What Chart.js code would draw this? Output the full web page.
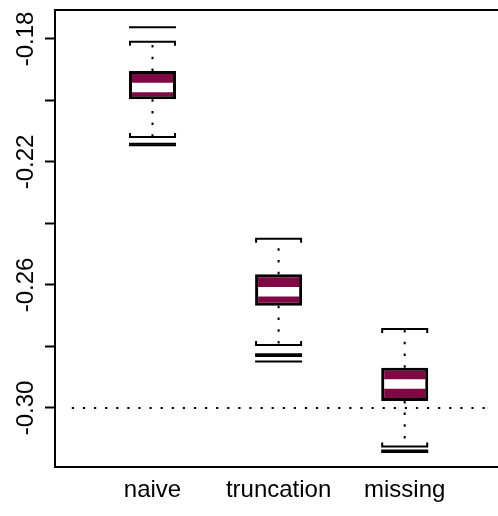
<!DOCTYPE html>
<html>
<head>
<meta charset="utf-8">
<script src="https://cdn.jsdelivr.net/npm/chart.js@4/dist/chart.umd.min.js"></script>
<style>
  html, body { margin: 0; padding: 0; background: #ffffff; overflow: hidden; }
  canvas { display: block; }
</style>
</head>
<body>
<canvas id="c" width="498" height="516"></canvas>
<script>
// Estimator comparison: five-number summaries per method plus the flagged outliers.
const categories   = ['naive', 'truncation', 'missing'];
const boxPositions = [1, 2, 3];
const upperQuartile = [-0.1904, -0.2565, -0.2869];
const medians       = [-0.1958, -0.2622, -0.2922];
const lowerQuartile = [-0.1996, -0.2668, -0.2977];
const whiskerHigh   = [-0.1809, -0.2450, -0.2743];
const whiskerLow    = [-0.2119, -0.2795, -0.3125];
const outliers = [
  [-0.1762, -0.2141, -0.2146],
  [-0.2825, -0.2831, -0.2849],
  [-0.3138, -0.3143]
];

// True parameter value, drawn as a dotted reference line.
const referenceLevel = -0.30;
const referenceSpan  = [0.36, 3.64];

// Axis ranges and ticks.
const xLimits = [0.2268, 3.7399];
const yLimits = [-0.3192, -0.1706];
const yTickValues = [-0.30, -0.28, -0.26, -0.24, -0.22, -0.20, -0.18];
const yTickLabels = ['-0.30', '', '-0.26', '', '-0.22', '', '-0.18'];

const FONT = "'Liberation Sans', Arial, Helvetica, sans-serif";
const BOX_FILL = '#800845';

// Whisker segments: box edge to whisker end, separated by gaps.
const whiskerPoints = [];
boxPositions.forEach((x, i) => {
  whiskerPoints.push({ x, y: upperQuartile[i] }, { x, y: whiskerHigh[i] }, { x, y: null });
  whiskerPoints.push({ x, y: lowerQuartile[i] }, { x, y: whiskerLow[i] }, { x, y: null });
});

const outlierPoints = [];
outliers.forEach((list, i) => list.forEach(v => outlierPoints.push({ x: boxPositions[i], y: v })));

function noPadding(s) {
  s.paddingLeft = 0; s.paddingRight = 0; s.paddingTop = 0; s.paddingBottom = 0;
}

// Staples with short end caps pointing back at the box, plus the outer frame.
const boxExtras = {
  id: 'boxExtras',
  afterDatasetsDraw(chart) {
    const { ctx, chartArea } = chart;
    const yScale = chart.scales.y;
    const bars = chart.getDatasetMeta(0).data;
    ctx.save();
    ctx.strokeStyle = '#000';
    ctx.lineWidth = 2;
    ctx.lineCap = 'butt';
    ctx.lineJoin = 'miter';
    bars.forEach((bar, i) => {
      const half = bar.width / 2;
      const xl = bar.x - half + 1, xr = bar.x + half - 1;
      const hi = yScale.getPixelForValue(whiskerHigh[i]);
      const lo = yScale.getPixelForValue(whiskerLow[i]);
      ctx.beginPath();
      ctx.moveTo(xl, hi + 4); ctx.lineTo(xl, hi); ctx.lineTo(xr, hi); ctx.lineTo(xr, hi + 4);
      ctx.stroke();
      ctx.beginPath();
      ctx.moveTo(xl, lo - 4); ctx.lineTo(xl, lo); ctx.lineTo(xr, lo); ctx.lineTo(xr, lo - 4);
      ctx.stroke();
    });
    // top edge of the plotting frame
    ctx.beginPath();
    ctx.moveTo(chartArea.left - 1, chartArea.top);
    ctx.lineTo(chartArea.right, chartArea.top);
    ctx.stroke();
    ctx.restore();
  },
  afterDraw(chart) {
    // vertical tick labels on the value axis
    const { ctx } = chart;
    const yScale = chart.scales.y;
    ctx.save();
    ctx.fillStyle = '#000';
    ctx.font = '24px ' + FONT;
    ctx.textAlign = 'center';
    ctx.textBaseline = 'alphabetic';
    yTickValues.forEach((v, i) => {
      if (!yTickLabels[i]) return;
      const py = yScale.getPixelForValue(v);
      ctx.save();
      ctx.translate(33, py);
      ctx.rotate(-Math.PI / 2);
      ctx.fillText(yTickLabels[i], 0, 0);
      ctx.restore();
    });
    ctx.restore();
  }
};

new Chart(document.getElementById('c'), {
  type: 'bar',
  data: {
    datasets: [
      {
        type: 'bar',
        label: 'IQR',
        data: boxPositions.map((x, i) => ({ x, y: [lowerQuartile[i], upperQuartile[i]] })),
        backgroundColor: BOX_FILL,
        borderColor: '#000',
        borderWidth: 3,
        borderSkipped: false,
        categoryPercentage: 1,
        barPercentage: 0.373,
        order: 4
      },
      {
        type: 'scatter',
        label: 'median',
        data: boxPositions.map((x, i) => ({ x, y: medians[i] })),
        pointStyle: 'line',
        radius: 20.5,
        borderColor: '#ffffff',
        borderWidth: 9.5,
        order: 1
      },
      {
        type: 'line',
        label: 'whiskers',
        data: whiskerPoints,
        borderColor: '#000',
        borderWidth: 2,
        borderDash: [2.5, 9.2],
        pointRadius: 0,
        spanGaps: false,
        fill: false,
        tension: 0,
        order: 3
      },
      {
        type: 'scatter',
        label: 'outliers',
        data: outlierPoints,
        pointStyle: 'line',
        radius: 23.5,
        borderColor: '#000',
        borderWidth: 2,
        order: 2
      },
      {
        type: 'line',
        label: 'true value',
        data: referenceSpan.map(x => ({ x, y: referenceLevel })),
        borderColor: '#000',
        borderWidth: 2,
        borderDash: [2.2, 8.9],
        pointRadius: 0,
        fill: false,
        order: 2
      }
    ]
  },
  options: {
    responsive: false,
    animation: false,
    devicePixelRatio: 1,
    events: [],
    layout: { autoPadding: false, padding: { top: 10, right: 0, bottom: 0, left: 0 } },
    plugins: { legend: { display: false }, tooltip: { enabled: false } },
    scales: {
      x: {
        type: 'linear',
        offset: false,
        min: xLimits[0],
        max: xLimits[1],
        afterBuildTicks: s => { s.ticks = boxPositions.map(v => ({ value: v })); },
        afterFit: s => { s.height = 49; noPadding(s); },
        grid: { display: true, drawOnChartArea: false, drawTicks: false },
        border: { display: true, color: '#000', width: 2 },
        ticks: {
          autoSkip: false,
          maxRotation: 0,
          padding: 9,
          color: '#000',
          font: { family: FONT, size: 24 },
          callback: (value, index) => categories[index]
        }
      },
      y: {
        type: 'linear',
        min: yLimits[0],
        max: yLimits[1],
        afterBuildTicks: s => { s.ticks = yTickValues.map(v => ({ value: v })); },
        afterFit: s => { s.width = 55; noPadding(s); },
        grid: { display: true, drawOnChartArea: false, drawTicks: true, tickLength: 10, tickWidth: 2, tickColor: '#000' },
        border: { display: true, color: '#000', width: 2 },
        ticks: { display: false }
      }
    }
  },
  plugins: [boxExtras]
});
</script>
</body>
</html>
